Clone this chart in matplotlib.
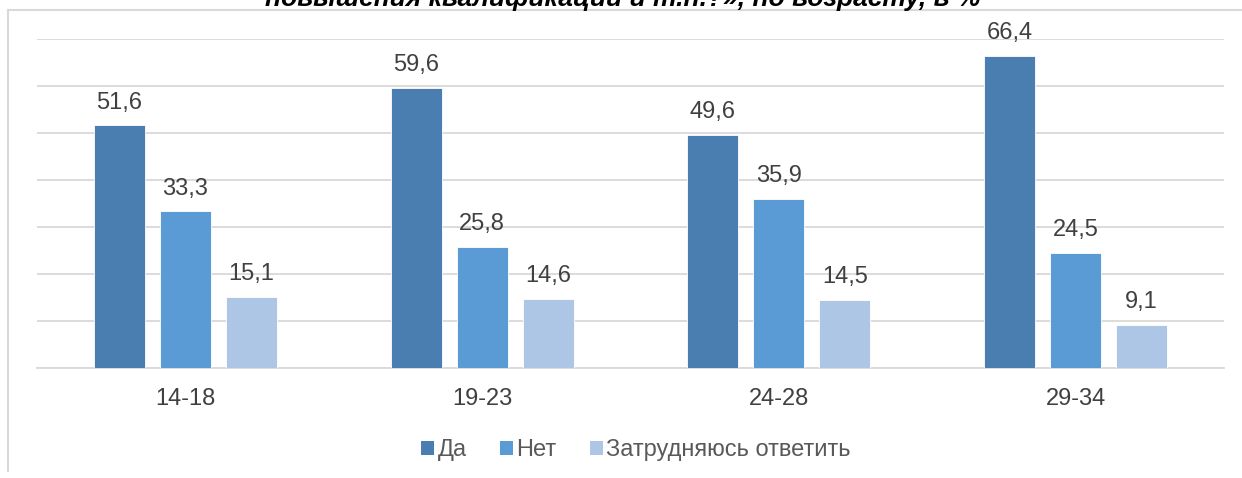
import matplotlib
matplotlib.use('Agg')
import matplotlib.pyplot as plt
import numpy as np
from matplotlib.lines import Line2D
from matplotlib.patches import Patch

plt.rcParams['font.family'] = ['Liberation Sans', 'DejaVu Sans']

# Survey answers by age group, %
age_groups = ['14-18', '19-23', '24-28', '29-34']
series_names = ['Да', 'Нет', 'Затрудняюсь ответить']
yes_vals = [51.6, 59.6, 49.6, 66.4]
no_vals = [33.3, 25.8, 35.9, 24.5]
unsure_vals = [15.1, 14.6, 14.5, 9.1]
colors = ['#4A7EB0', '#5B9BD5', '#ADC6E6']
title_tail = 'повышения квалификации и т.п.?», по возрасту, в %'

W, H = 1242, 478
fig = plt.figure(figsize=(W / 100, H / 100), dpi=100)
fig.patch.set_facecolor('white')

# chart frame (top and left edges)
frame_col = '#D9D9D9'
fig.add_artist(Line2D([8 / W, 1.0], [1 - 10 / H, 1 - 10 / H],
                      transform=fig.transFigure, color=frame_col, lw=1.5))
fig.add_artist(Line2D([8 / W, 8 / W], [1 - 10 / H, 1 - 471 / H],
                      transform=fig.transFigure, color=frame_col, lw=1.5))

# title line, mostly above the top edge
fig.text(623 / W, 1 - 6 / H, title_tail, ha='center', va='baseline',
         fontsize=19, fontweight='bold', fontstyle='italic', color='black')

ax = fig.add_axes([37 / W, 1 - 368 / H, (1224 - 37) / W, (368 - 39) / H])
x = np.arange(len(age_groups))
width = 0.172
step = 0.2224

for i, (vals, col, name) in enumerate(zip([yes_vals, no_vals, unsure_vals],
                                          colors, series_names)):
    pos = x + (i - 1) * step
    bars = ax.bar(pos, vals, width, color=col, edgecolor='#FFFFFF',
                  linewidth=0.6, zorder=3, label=name)
    for b, v in zip(bars, vals):
        ax.annotate(f'{v:.1f}'.replace('.', ','),
                    (b.get_x() + b.get_width() / 2, v),
                    xytext=(0, 12.2), textcoords='offset points',
                    ha='center', va='baseline', fontsize=17, color='#404040')

ax.set_xlim(-0.5, 3.5)
ax.set_ylim(0, 70)
ax.set_yticks(np.arange(0, 71, 10))
ax.yaxis.grid(True, color='#D9D9D9', lw=1.3, zorder=0)
ax.tick_params(left=False, bottom=False, labelleft=False)
ax.set_xticks(x)
ax.set_xticklabels(age_groups, fontsize=17, color='#404040')
ax.tick_params(axis='x', pad=11)
for s in ['top', 'right', 'left']:
    ax.spines[s].set_visible(False)
ax.spines['bottom'].set_color('#D9D9D9')
ax.spines['bottom'].set_linewidth(1.3)

handles = [Patch(facecolor=c, edgecolor='none') for c in colors]
fig.legend(handles, series_names, loc='center', bbox_to_anchor=(636 / W, 1 - 450 / H),
           ncol=3, frameon=False, fontsize=17, labelcolor='#595959',
           handlelength=0.55, handleheight=0.55, handletextpad=0.15,
           columnspacing=1.4)

fig.savefig('out.png', dpi=100)
